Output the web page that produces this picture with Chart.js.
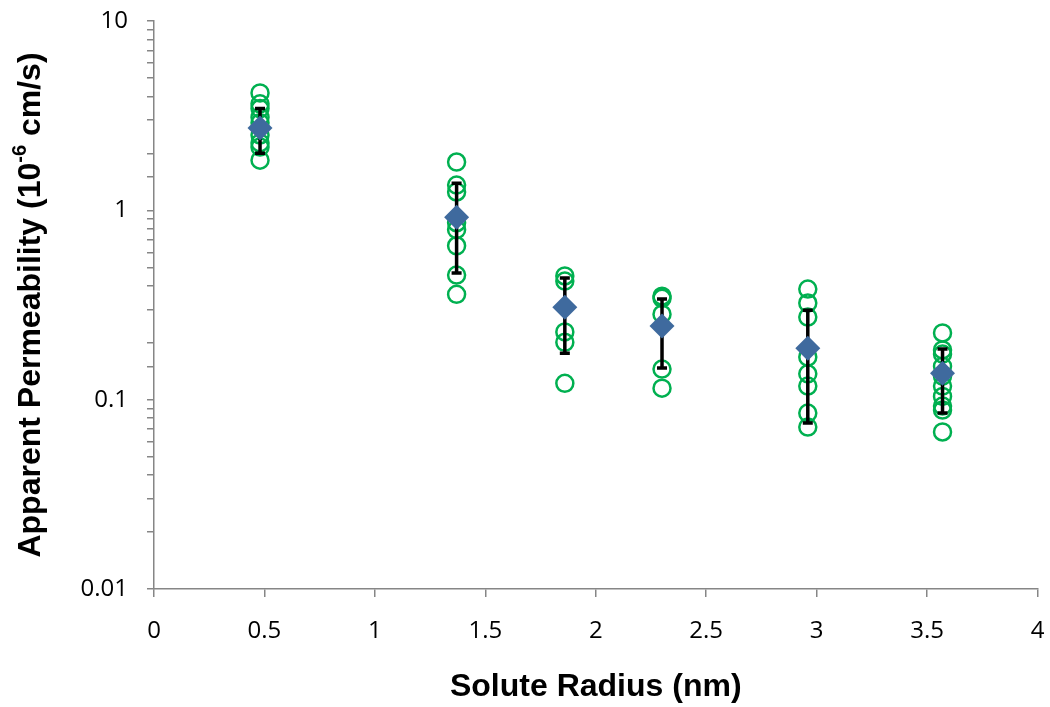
<!DOCTYPE html>
<html>
<head>
<meta charset="utf-8">
<script src="https://cdn.jsdelivr.net/npm/chart.js@4.4.1/dist/chart.umd.min.js"></script>
<style>
  html, body { margin: 0; padding: 0; background: #fff; }
  #wrap { width: 1050px; height: 707px; }
</style>
</head>
<body>
<div id="wrap"><canvas id="chart" width="1050" height="707"></canvas></div>
<script>
// solute radius (nm) of each probe
const radii = [0.48, 1.37, 1.86, 2.30, 2.96, 3.57];

// individual measurements, apparent permeability (10^-6 cm/s)
const runsR1 = [4.17, 3.65, 3.45, 3.1, 2.9, 2.5, 2.27, 2.16, 1.84];
const runsR2 = [1.80, 1.36, 1.25, 0.86, 0.79, 0.65, 0.455, 0.36];
const runsR3 = [0.45, 0.423, 0.228, 0.201, 0.122];
const runsR4 = [0.352, 0.343, 0.283, 0.145, 0.115];
const runsR5 = [0.384, 0.324, 0.273, 0.168, 0.137, 0.118, 0.085, 0.0717];
const runsR6 = [0.225, 0.183, 0.174, 0.150, 0.133, 0.118, 0.104, 0.0925, 0.0881, 0.0675];

// mean and error bar ends
const meanPerm = [2.72, 0.92, 0.308, 0.245, 0.187, 0.138];
const errHigh  = [3.45, 1.39, 0.439, 0.340, 0.297, 0.185];
const errLow   = [2.00, 0.467, 0.176, 0.147, 0.0752, 0.085];

const xTicks = [0, 0.5, 1, 1.5, 2, 2.5, 3, 3.5, 4];
const yDecades = [0.01, 0.1, 1, 10];

const AXIS_GREY = '#868686';
const TICK_FONT = "'Open Sans', 'Liberation Sans', sans-serif";
const TITLE_FONT = "'Liberation Sans', Arial, sans-serif";

const runPoints = [runsR1, runsR2, runsR3, runsR4, runsR5, runsR6]
  .flatMap((runs, i) => runs.map((v) => ({ x: radii[i], y: v })));
const meanPoints = radii.map((r, i) => ({ x: r, y: meanPerm[i] }));

// error bars: drawn after the circles, under the diamonds
const errorBars = {
  id: 'errorBars',
  beforeDatasetDraw(chart, args) {
    if (args.index !== 0) return;
    const { ctx } = chart;
    const xs = chart.scales.x, ys = chart.scales.y;
    ctx.save();
    ctx.strokeStyle = '#000';
    ctx.lineWidth = 3.5;
    ctx.lineCap = 'butt';
    radii.forEach((r, i) => {
      const px = xs.getPixelForValue(r);
      const top = ys.getPixelForValue(errHigh[i]);
      const bot = ys.getPixelForValue(errLow[i]);
      ctx.beginPath();
      ctx.moveTo(px, top); ctx.lineTo(px, bot);
      ctx.moveTo(px - 5, top); ctx.lineTo(px + 5, top);
      ctx.moveTo(px - 5, bot); ctx.lineTo(px + 5, bot);
      ctx.stroke();
    });
    ctx.restore();
  },
};

// axis titles (y title needs a superscript)
const axisTitles = {
  id: 'axisTitles',
  afterDraw(chart) {
    const { ctx, chartArea } = chart;
    ctx.save();
    ctx.fillStyle = '#000';
    ctx.textBaseline = 'middle';
    ctx.textAlign = 'center';
    ctx.font = `bold 32px ${TITLE_FONT}`;
    ctx.fillText('Solute Radius (nm)', (chartArea.left + chartArea.right) / 2, 687);

    const parts = [
      { t: 'Apparent Permeability (10', f: `bold 32px ${TITLE_FONT}`, dy: 0 },
      { t: '-6', f: `bold 20px ${TITLE_FONT}`, dy: -11 },
      { t: ' cm/s)', f: `bold 32px ${TITLE_FONT}`, dy: 0 },
    ];
    let total = 0;
    parts.forEach((p) => { ctx.font = p.f; p.w = ctx.measureText(p.t).width; total += p.w; });
    ctx.translate(31, (chartArea.top + chartArea.bottom) / 2);
    ctx.rotate(-Math.PI / 2);
    ctx.textAlign = 'left';
    let x = -total / 2;
    parts.forEach((p) => { ctx.font = p.f; ctx.fillText(p.t, x, p.dy); x += p.w; });
    ctx.restore();
  },
};

new Chart(document.getElementById('chart'), {
  type: 'scatter',
  data: {
    datasets: [
      {
        label: 'Mean',
        data: meanPoints,
        pointStyle: 'rectRot',
        pointRadius: 12.5,
        pointHoverRadius: 12.5,
        backgroundColor: '#3F6A9E',
        borderColor: '#3F6A9E',
        borderWidth: 0,
      },
      {
        label: 'Individual',
        data: runPoints,
        pointStyle: 'circle',
        pointRadius: 8.5,
        pointHoverRadius: 8.5,
        backgroundColor: 'rgba(0,0,0,0)',
        borderColor: '#00B050',
        borderWidth: 2.5,
      },
    ],
  },
  plugins: [errorBars, axisTitles],
  options: {
    responsive: false,
    animation: false,
    layout: { padding: { top: 21, right: 12, left: 0, bottom: 0 } },
    plugins: { legend: { display: false }, tooltip: { enabled: false } },
    scales: {
      x: {
        type: 'linear', min: 0, max: 4,
        afterBuildTicks: (s) => { s.ticks = xTicks.map((v) => ({ value: v })); },
        afterFit: (s) => { s.height = 707 - 589; s.paddingLeft = 0; s.paddingRight = 0; },
        border: { display: true, color: AXIS_GREY, width: 1.5 },
        grid: { display: true, drawOnChartArea: false, drawTicks: true, tickLength: 8, color: AXIS_GREY, lineWidth: 1.5 },
        ticks: {
          color: '#000', padding: 20, maxRotation: 0,
          font: { family: TICK_FONT, size: 24 },
          callback: (v) => String(v),
        },
      },
      y: {
        type: 'logarithmic', min: 0.01, max: 10,
        afterFit: (s) => { s.width = 154; s.paddingTop = 0; s.paddingBottom = 0; },
        border: { display: true, color: AXIS_GREY, width: 1.5 },
        grid: { display: true, drawOnChartArea: false, drawTicks: true, tickLength: 7, color: AXIS_GREY, lineWidth: 1.5 },
        ticks: {
          autoSkip: false,
          color: '#000',
          padding: 19,
          font: { family: TICK_FONT, size: 24 },
          callback: (v) => (yDecades.some((d) => Math.abs(d - v) / d < 1e-6) ? String(v) : ''),
        },
      },
    },
  },
});
</script>
</body>
</html>
